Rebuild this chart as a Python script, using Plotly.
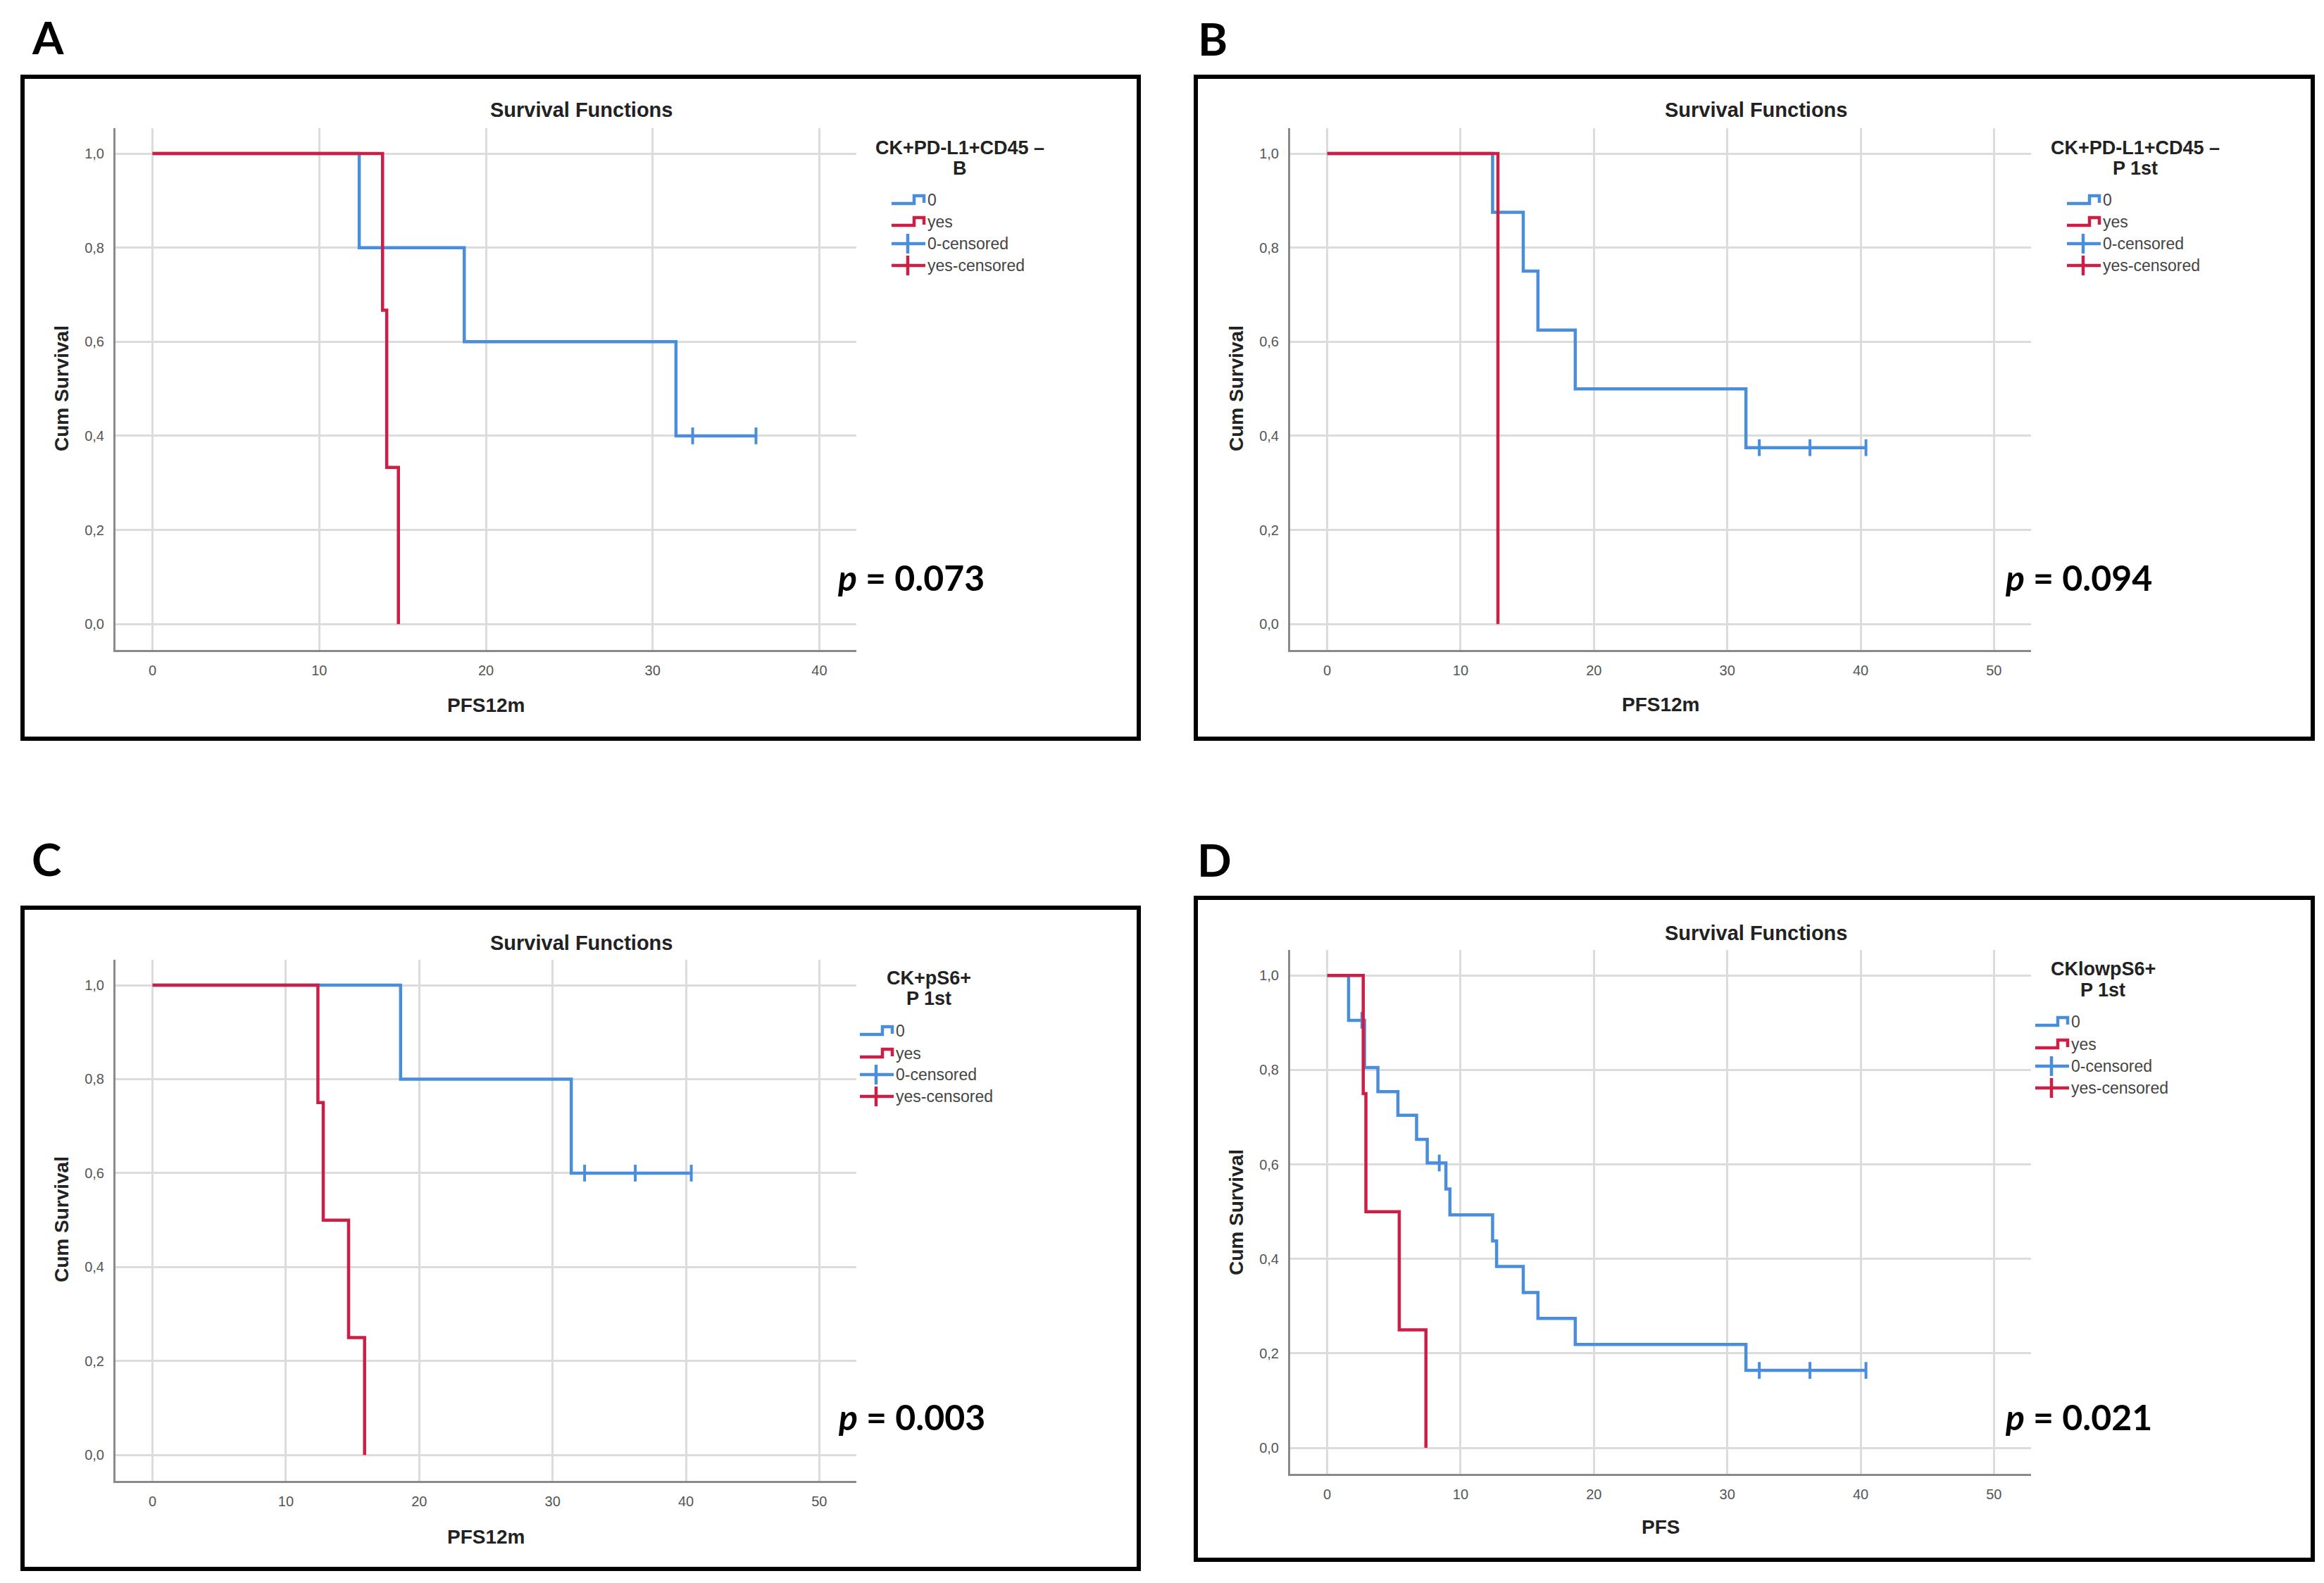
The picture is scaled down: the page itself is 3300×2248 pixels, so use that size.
import plotly.graph_objects as go

W, H = 3300, 2248
BLUE = "#4A8EDB"
RED = "#CD1E46"
FONT = "Liberation Sans, Arial, sans-serif"

# ---------------- data ----------------
# Panel A : CK+PD-L1+CD45 – B
A_no_t = [0, 12.4, 18.7, 31.4, 36.2]
A_no_s = [1.0, 0.8, 0.6, 0.4, 0.4]
A_no_cens_t = [32.4, 36.2]
A_no_cens_s = [0.4, 0.4]
A_yes_t = [0, 13.8, 14.05, 14.75]
A_yes_s = [1.0, 0.667, 0.333, 0.0]

# Panel B : CK+PD-L1+CD45 – P 1st
B_no_t = [0, 12.4, 14.7, 15.8, 18.6, 31.4, 40.4]
B_no_s = [1.0, 0.875, 0.75, 0.625, 0.5, 0.375, 0.375]
B_no_cens_t = [32.4, 36.2, 40.4]
B_no_cens_s = [0.375, 0.375, 0.375]
B_yes_t = [0, 12.8]
B_yes_s = [1.0, 0.0]

# Panel C : CK+pS6+ P 1st
C_no_t = [0, 18.6, 31.4, 40.4]
C_no_s = [1.0, 0.8, 0.6, 0.6]
C_no_cens_t = [32.4, 36.2, 40.4]
C_no_cens_s = [0.6, 0.6, 0.6]
C_yes_t = [0, 12.4, 12.8, 14.7, 15.9]
C_yes_s = [1.0, 0.75, 0.5, 0.25, 0.0]

# Panel D : CKlowpS6+ P 1st
D_no_t = [0, 1.6, 2.8, 3.8, 5.3, 6.7, 7.5, 8.9, 9.2, 12.4, 12.7, 14.7, 15.8, 18.6, 31.4, 40.4]
D_no_s = [1.0, 0.905, 0.805, 0.754, 0.704, 0.653, 0.603, 0.548, 0.493, 0.438, 0.384,
          0.329, 0.274, 0.219, 0.164, 0.164]
D_no_cens_t = [2.6, 8.4, 32.4, 36.2, 40.4]
D_no_cens_s = [0.905, 0.603, 0.164, 0.164, 0.164]
D_yes_t = [0, 2.7, 2.9, 5.4, 7.4]
D_yes_s = [1.0, 0.75, 0.5, 0.25, 0.0]

letters = ["A", "B", "C", "D"]
legend_titles = [["CK+PD-L1+CD45 –", "B"], ["CK+PD-L1+CD45 –", "P 1st"],
                 ["CK+pS6+", "P 1st"], ["CKlowpS6+", "P 1st"]]
legend_labels = ["0", "yes", "0-censored", "yes-censored"]
x_titles = ["PFS12m", "PFS12m", "PFS12m", "PFS"]
p_values = ["0.073", "0.094", "0.003", "0.021"]
chart_title = "Survival Functions"
y_title = "Cum Survival"

series = [
    (A_no_t, A_no_s, A_no_cens_t, A_no_cens_s, A_yes_t, A_yes_s),
    (B_no_t, B_no_s, B_no_cens_t, B_no_cens_s, B_yes_t, B_yes_s),
    (C_no_t, C_no_s, C_no_cens_t, C_no_cens_s, C_yes_t, C_yes_s),
    (D_no_t, D_no_s, D_no_cens_t, D_no_cens_s, D_yes_t, D_yes_s),
]

# ---------------- layout geometry (pixels) ----------------
def px(x):
    return x / W

def py(y):
    return 1 - y / H

panels = [
    dict(box=(24, 101, 1609, 1041), xd=(156, 1208), yd=(174, 915), xr=(-2.22, 42.22),
         letter=(60, 45), title=(817, 148), ytl=(79, 544), xtl=(682, 993),
         leg_title=(1355, 202, 231), leg_icon=1258, leg_y=(276, 307, 338, 369), p=(1285, 812)),
    dict(box=(1690, 101, 3276, 1041), xd=(1824, 2876), yd=(174, 915), xr=(-2.78, 52.78),
         letter=(1714, 47), title=(2485, 148), ytl=(1747, 544), xtl=(2350, 992),
         leg_title=(3024, 202, 231), leg_icon=2927, leg_y=(276, 307, 338, 369), p=(2943, 812)),
    dict(box=(24, 1281, 1609, 2220), xd=(156, 1208), yd=(1355, 2095), xr=(-2.78, 52.78),
         letter=(58, 1211), title=(817, 1331), ytl=(79, 1724), xtl=(682, 2174),
         leg_title=(1311, 1381, 1410), leg_icon=1213, leg_y=(1456, 1488, 1518, 1549), p=(1286, 2004)),
    dict(box=(1690, 1267, 3276, 2207), xd=(1824, 2876), yd=(1341, 2085), xr=(-2.78, 52.78),
         letter=(1716, 1212), title=(2485, 1317), ytl=(1747, 1714), xtl=(2350, 2160),
         leg_title=(2978, 1368, 1398), leg_icon=2882, leg_y=(1443, 1475, 1506, 1537), p=(2943, 2004)),
]

fig = go.Figure()
annotations = []
shapes = []

for i, (pn, ser) in enumerate(zip(panels, series)):
    n = "" if i == 0 else str(i + 1)
    xa, ya = "x" + n, "y" + n
    no_t, no_s, nc_t, nc_s, yes_t, yes_s = ser

    fig.add_trace(go.Scatter(x=no_t, y=no_s, mode="lines", line=dict(color=BLUE, width=4.5, shape="hv"),
                             xaxis=xa, yaxis=ya, showlegend=False, hoverinfo="skip"))
    fig.add_trace(go.Scatter(x=nc_t, y=nc_s, mode="markers",
                             marker=dict(symbol="line-ns-open", size=17, color=BLUE,
                                         line=dict(color=BLUE, width=4)),
                             xaxis=xa, yaxis=ya, showlegend=False, hoverinfo="skip"))
    fig.add_trace(go.Scatter(x=yes_t, y=yes_s, mode="lines", line=dict(color=RED, width=4.5, shape="hv"),
                             xaxis=xa, yaxis=ya, showlegend=False, hoverinfo="skip"))

    axis_common = dict(showline=True, linecolor="#8a8a8a", linewidth=3, mirror=False,
                       showgrid=True, gridcolor="#dcdcdc", gridwidth=3, zeroline=False,
                       ticks="", tickfont=dict(family=FONT, size=20, color="#555555"),
                       ticklabelstandoff=9, fixedrange=True)
    fig.layout["xaxis" + n] = dict(axis_common, domain=[px(pn["xd"][0]), px(pn["xd"][1])],
                                   range=list(pn["xr"]), tick0=0, dtick=10, anchor=ya)
    fig.layout["yaxis" + n] = dict(axis_common, domain=[py(pn["yd"][1]), py(pn["yd"][0])],
                                   range=[-0.055, 1.054], tick0=0, dtick=0.2, tickformat=".1f",
                                   anchor=xa)

    # frame
    x0, y0, x1, y1 = pn["box"]
    shapes.append(dict(type="rect", xref="paper", yref="paper", x0=px(x0), x1=px(x1),
                       y0=py(y1), y1=py(y0), line=dict(color="black", width=6)))

    # panel letter
    lx, ly = pn["letter"]
    annotations.append(dict(text="<b>%s</b>" % letters[i], x=px(lx), y=py(ly), xref="paper", yref="paper",
                            showarrow=False, xanchor="center", yanchor="middle",
                            font=dict(family="Lato, sans-serif", size=64, color="black")))
    # chart title
    tx, ty = pn["title"]
    annotations.append(dict(text="<b>%s</b>" % chart_title, x=px(tx), y=py(ty), xref="paper", yref="paper",
                            showarrow=False, xanchor="center", yanchor="middle",
                            font=dict(family=FONT, size=29, color="#222222")))
    # y title
    yx, yy = pn["ytl"]
    annotations.append(dict(text="<b>%s</b>" % y_title, x=px(yx), y=py(yy), xref="paper", yref="paper",
                            showarrow=False, xanchor="center", yanchor="middle", textangle=-90,
                            font=dict(family=FONT, size=28, color="#222222")))
    # x title
    xx, xy = pn["xtl"]
    annotations.append(dict(text="<b>%s</b>" % x_titles[i], x=px(xx), y=py(xy), xref="paper", yref="paper",
                            showarrow=False, xanchor="center", yanchor="middle",
                            font=dict(family=FONT, size=28, color="#222222")))
    # legend title
    cx, t1, t2 = pn["leg_title"]
    for txt, yy_ in zip(legend_titles[i], (t1, t2)):
        annotations.append(dict(text="<b>%s</b>" % txt, x=px(cx), y=py(yy_), xref="paper", yref="paper",
                                showarrow=False, xanchor="center", yanchor="middle",
                                font=dict(family=FONT, size=27, color="#222222")))
    # legend entries
    ix = pn["leg_icon"]
    for j, (lab, ly_) in enumerate(zip(legend_labels, pn["leg_y"])):
        col = BLUE if j % 2 == 0 else RED
        if j < 2:
            path = "M %f,%f L %f,%f L %f,%f L %f,%f L %f,%f" % (
                px(ix), py(ly_ + 5), px(ix + 32), py(ly_ + 5), px(ix + 32), py(ly_ - 6),
                px(ix + 46), py(ly_ - 6), px(ix + 46), py(ly_ + 4))
            shapes.append(dict(type="path", path=path, xref="paper", yref="paper",
                               line=dict(color=col, width=4.5)))
        else:
            shapes.append(dict(type="line", xref="paper", yref="paper", x0=px(ix), x1=px(ix + 48),
                               y0=py(ly_), y1=py(ly_), line=dict(color=col, width=4.5)))
            shapes.append(dict(type="line", xref="paper", yref="paper", x0=px(ix + 23), x1=px(ix + 23),
                               y0=py(ly_ - 14), y1=py(ly_ + 14), line=dict(color=col, width=4.5)))
        annotations.append(dict(text=lab, x=px(ix + 49), y=py(ly_), xref="paper", yref="paper",
                                showarrow=False, xanchor="left", yanchor="middle",
                                font=dict(family=FONT, size=23, color="#444444")))
    # p value
    ppx, ppy = pn["p"]
    annotations.append(dict(text="<b><i>p</i> = %s</b>" % p_values[i], x=px(ppx), y=py(ppy),
                            xref="paper", yref="paper", showarrow=False, xanchor="center", yanchor="middle",
                            font=dict(family="Lato, sans-serif", size=50, color="black")))

fig.update_layout(width=W, height=H, margin=dict(l=0, r=0, t=0, b=0),
                  paper_bgcolor="white", plot_bgcolor="white", separators=", ",
                  showlegend=False, annotations=annotations, shapes=shapes)

fig.write_html("out.html")
